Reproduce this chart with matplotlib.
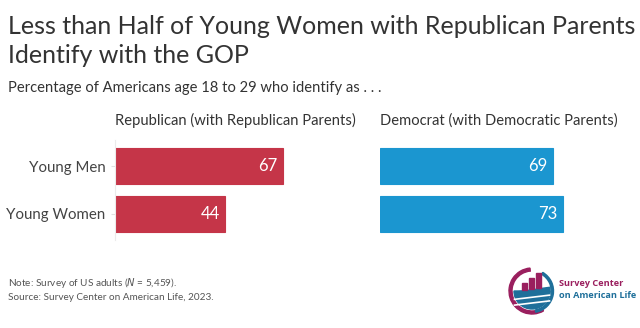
import matplotlib.pyplot as plt
import numpy as np
from matplotlib.patches import Wedge, Rectangle, Polygon

plt.rcParams['font.family'] = ['Lato', 'DejaVu Sans']

groups = ['Young Men', 'Young Women']
panel_titles = ['Republican (with Republican Parents)', 'Democrat (with Democratic Parents)']
republican = [67, 44]
democrat = [69, 73]
colors = ['#C53548', '#1B96D0']

W, H = 640, 328
fig = plt.figure(figsize=(W / 100, H / 100), dpi=100)


def px_axes(x0, y0, x1, y1):
    # axes from pixel box (top-left origin)
    return fig.add_axes([x0 / W, (H - y1) / H, (x1 - x0) / W, (y1 - y0) / H])


fig.text(8 / W, 1 - 34 / H, 'Less than Half of Young Women with Republican Parents',
         fontsize=18, color='#333333', va='baseline', ha='left')
fig.text(8 / W, 1 - 63 / H, 'Identify with the GOP',
         fontsize=18, color='#333333', va='baseline', ha='left')
fig.text(8 / W, 1 - 88 / H, 'Percentage of Americans age 18 to 29 who identify as . . .',
         fontsize=10.6, color='#333333', va='center', ha='left')

y = np.arange(len(groups))
for i, (vals, title, col) in enumerate(zip([republican, democrat], panel_titles, colors)):
    x0 = 115 if i == 0 else 380
    ax = px_axes(x0, 140, x0 + 250, 240)
    ax.barh(y, vals, height=0.75, color=col, edgecolor=col, linewidth=0.8)
    for yi, v in zip(y, vals):
        ax.text(v - 2, yi, str(v), color='white', fontsize=12, va='center', ha='right')
    ax.set_xlim(0, 100)
    ax.set_ylim(1.55, -0.55)
    ax.set_xticks([])
    for s in ['top', 'right', 'bottom']:
        ax.spines[s].set_visible(False)
    if i == 0:
        ax.spines['left'].set_color('#EBEBEB')
        ax.set_yticks(y)
        ax.set_yticklabels(groups, fontsize=10.8, color='#444444')
        ax.tick_params(axis='y', length=3, color='#E0E0E0', pad=4)
    else:
        ax.spines['left'].set_visible(False)
        ax.set_yticks([])
    ax.set_facecolor('none')
    ax.text(0, -0.95, title, fontsize=10.6, color='#333333', ha='left', va='center',
            transform=ax.transData)

fig.text(8 / W, 1 - 283 / H, 'Note: Survey of US adults ($N$ = 5,459).', fontsize=7.2,
         color='#555555', va='center')
fig.text(8 / W, 1 - 298 / H, 'Source: Survey Center on American Life, 2023.', fontsize=7.2,
         color='#555555', va='center')

# logo
purple = '#9A1F5E'
teal = '#1E6F9A'
lax = px_axes(507, 266, 557, 316)
lax.set_xlim(-1, 1)
lax.set_ylim(-1, 1)
lax.set_aspect('equal')
lax.axis('off')
lax.add_patch(Wedge((0, 0), 0.92, 95, 300, width=0.12, color=purple))
lax.add_patch(Wedge((0, 0), 0.86, 280, 420, width=0.09, color=teal))
lax.add_patch(Wedge((0, 0), 0.72, 180, 360, color=teal))
lax.add_patch(Polygon([[-0.72, -0.05], [0.72, 0.15], [0.72, -0.05], [-0.72, -0.05]], color=teal))
for k, (bx, bh) in enumerate([(-0.42, 0.28), (-0.14, 0.45), (0.14, 0.62)]):
    lax.add_patch(Rectangle((bx, 0.05 + 0.03 * k), 0.2, bh, color=purple))
for yy in [-0.25, -0.48]:
    xs = np.linspace(-0.7, 0.7, 30)
    lax.plot(xs, yy + 0.12 * xs, color='white', lw=1.2)
fig.text(559 / W, 1 - 283 / H, 'Survey Center', fontsize=6.6, color=purple, va='center',
         fontweight='bold', family='Open Sans')
fig.text(559 / W, 1 - 296 / H, 'on American Life', fontsize=6.6, color=teal, va='center',
         fontweight='bold', family='Open Sans')

fig.savefig('out.png', dpi=100, facecolor='white')
